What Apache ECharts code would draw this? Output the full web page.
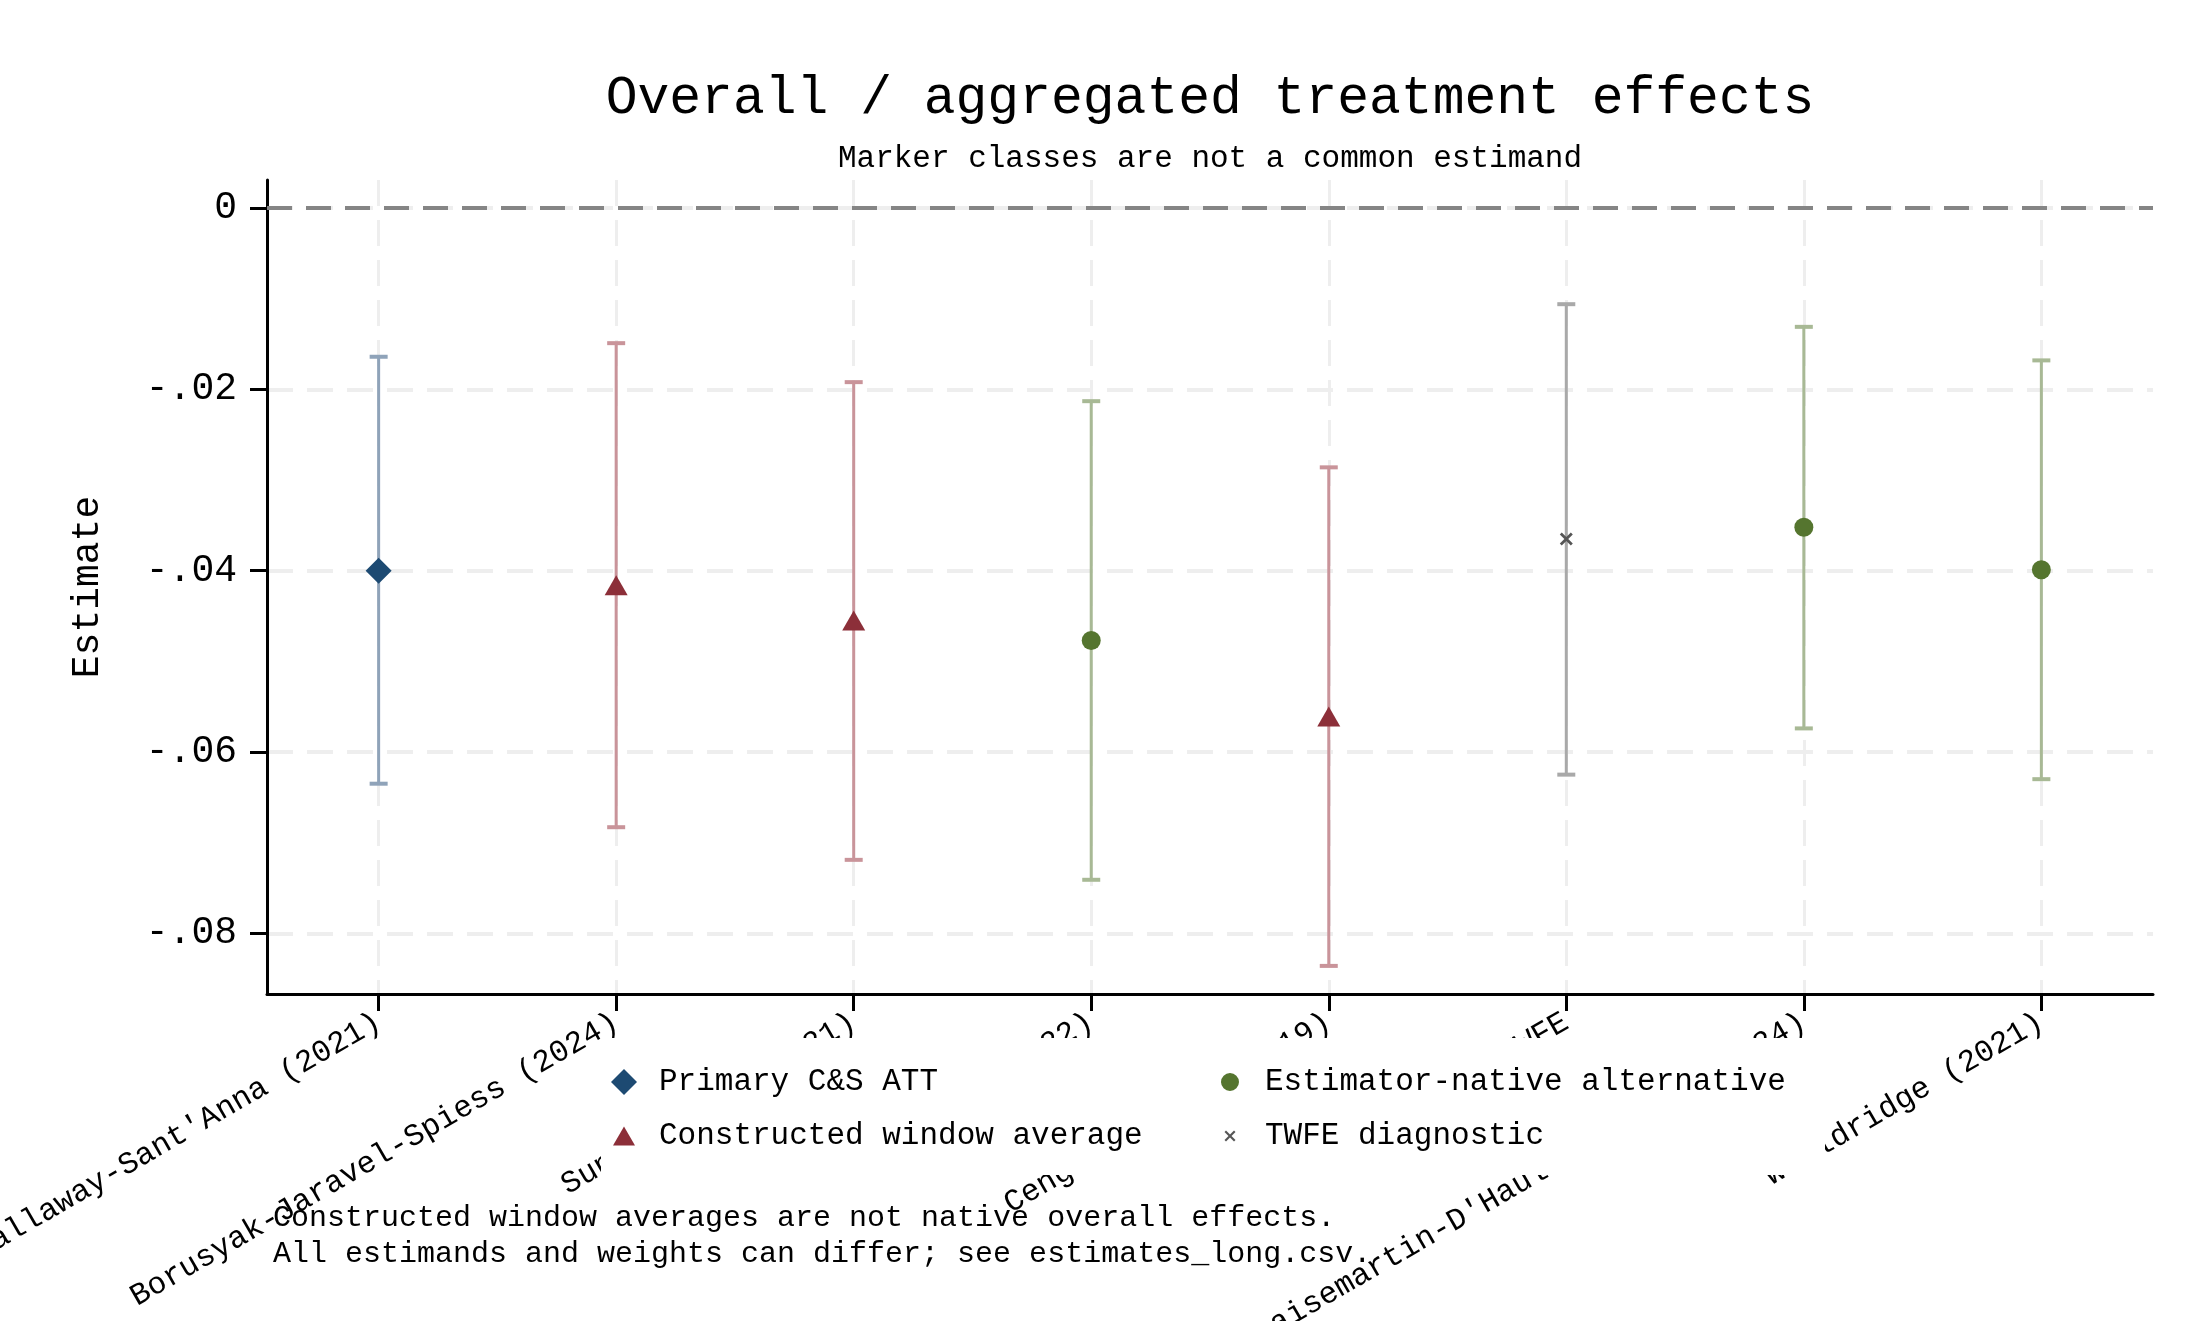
<!DOCTYPE html>
<html><head><meta charset="utf-8">
<script src="https://cdn.jsdelivr.net/npm/echarts@6/dist/echarts.min.js"></script>
<style>html,body{margin:0;padding:0;background:#fff}#c{width:2200px;height:1321px}</style>
</head><body><div id="c"></div>
<script>
// ---- data ----
const categories = ["Callaway-Sant'Anna (2021)", "Borusyak-Jaravel-Spiess (2024)", "Sun-Abraham (2021)", "Gardner (2022)", "Cengiz et al. (2019)", "TWFE", "de Chaisemartin-D'Haultfoeuille (2024)", "Wooldridge (2021)"];
const markerClass = ["Primary C&S ATT", "Constructed window average", "Constructed window average", "Estimator-native alternative", "Constructed window average", "TWFE diagnostic", "Estimator-native alternative", "Estimator-native alternative"];
const estimates = [-0.0400, -0.0416, -0.0455, -0.0477, -0.0561, -0.0365, -0.0352, -0.0399];
const ciLower = [-0.0635, -0.0683, -0.0719, -0.0741, -0.0836, -0.0625, -0.0574, -0.0630];
const ciUpper = [-0.0164, -0.0149, -0.0192, -0.0213, -0.0286, -0.0106, -0.0131, -0.0168];
const yTicks = [0, -0.02, -0.04, -0.06, -0.08];
const yTickLabels = ["0", "-.02", "-.04", "-.06", "-.08"];
const legendOrder = ["Primary C&S ATT", "Estimator-native alternative", "Constructed window average", "TWFE diagnostic"];
const referenceLine = 0;
const titleText = "Overall / aggregated treatment effects";
const subtitleText = "Marker classes are not a common estimand";
const noteLines = ["Constructed window averages are not native overall effects.", "All estimands and weights can differ; see estimates_long.csv."];

// ---- styles ----
const FONT = "Liberation Mono";
const xPath = 'path://M1.5,0 L5,3.5 L8.5,0 L10,1.5 L6.5,5 L10,8.5 L8.5,10 L5,6.5 L1.5,10 L0,8.5 L3.5,5 L0,1.5 Z';
const classStyle = {
  "Primary C&S ATT": {symbol: 'diamond', size: [26, 26], color: '#1d4a72', bar: '#8fa3b9',
    icon: 'path://M0,0 M26,26 M13,0 L26,13 L13,26 L0,13 Z'},
  "Constructed window average": {symbol: 'triangle', size: [23, 20], color: '#8c2f39', bar: '#c9949a',
    icon: 'path://M0,0 M26,26 M13,3.5 L24,22.5 L2,22.5 Z'},
  "Estimator-native alternative": {symbol: 'circle', size: 19, color: '#55752f', bar: '#a8b995',
    icon: 'path://M0,0 M26,26 M13,4 A9,9 0 1,1 12.99,4 Z'},
  "TWFE diagnostic": {symbol: xPath, size: 13, color: '#555555', bar: '#a9a9a9',
    icon: 'path://M0,0 M26,26 M9,7.5 L13,11.5 L17,7.5 L18.5,9 L14.5,13 L18.5,17 L17,18.5 L13,14.5 L9,18.5 L7.5,17 L11.5,13 L7.5,9 Z'}
};
const xPositions = categories.map((c, i) => i);

const series = [];
legendOrder.forEach((cls, k) => {
  const st = classStyle[cls];
  const idx = xPositions.filter(i => markerClass[i] === cls);
  series.push({
    name: 'ci-' + cls, type: 'custom', z: 2,
    data: idx.map(i => [i, ciLower[i], ciUpper[i]]),
    encode: {x: 0, y: [1, 2]},
    renderItem: function (params, api) {
      const x = api.value(0);
      const top = api.coord([x, api.value(2)]);
      const bot = api.coord([x, api.value(1)]);
      const hw = 9;
      const s = {stroke: st.bar, lineWidth: 3};
      return {type: 'group', children: [
        {type: 'line', shape: {x1: top[0], y1: top[1], x2: bot[0], y2: bot[1]}, style: s},
        {type: 'line', shape: {x1: top[0] - hw, y1: top[1], x2: top[0] + hw, y2: top[1]}, style: {stroke: st.bar, lineWidth: 4}},
        {type: 'line', shape: {x1: bot[0] - hw, y1: bot[1], x2: bot[0] + hw, y2: bot[1]}, style: {stroke: st.bar, lineWidth: 4}}
      ]};
    }
  });
  const sc = {
    name: cls, type: 'scatter', z: 3,
    symbol: st.symbol, symbolSize: st.size,
    itemStyle: {color: st.color, opacity: 1},
    data: idx.map(i => [i, estimates[i]])
  };
  if (k === 0) {
    sc.markLine = {
      silent: true, symbol: 'none', label: {show: false},
      lineStyle: {color: '#858585', width: 4, type: [25, 14]},
      data: [{yAxis: referenceLine}], z: 1
    };
  }
  series.push(sc);
});

const chart = echarts.init(document.getElementById('c'), null, {renderer: 'canvas'});
chart.setOption({
  backgroundColor: '#fff',
  animation: false,
  title: [
    {text: titleText, left: 1210, top: 72, textAlign: 'center', padding: 0,
      textStyle: {fontFamily: FONT, fontSize: 53, fontWeight: 'normal', color: '#000'}},
    {text: subtitleText, left: 1210, top: 143, textAlign: 'center', padding: 0,
      textStyle: {fontFamily: FONT, fontSize: 31, fontWeight: 'normal', color: '#000'}},
    {text: noteLines.join('\n'), left: 273, top: 1200, padding: 0, z: 8,
      textStyle: {fontFamily: FONT, fontSize: 30, lineHeight: 36, fontWeight: 'normal', color: '#000'}}
  ],
  legend: {
    data: legendOrder.map(n => ({name: n, icon: classStyle[n].icon})),
    left: 601, top: 1038, width: 1200,
    padding: [27, 22, 22, 10],
    backgroundColor: '#fff',
    itemWidth: 26, itemHeight: 26, itemGap: 20,
    selectedMode: false, z: 5,
    textStyle: {fontFamily: FONT, fontSize: 31, color: '#000', width: 538, lineHeight: 34, padding: [0, 0, 0, 17]}
  },
  grid: {left: 267, right: 47, top: 180, bottom: 327, containLabel: false, outerBoundsMode: 'none'},
  xAxis: {
    type: 'value', min: -0.47, max: 7.47,
    axisLine: {show: true, onZero: false, lineStyle: {color: '#000', width: 3}},
    axisTick: {show: true, customValues: xPositions, length: 17, lineStyle: {color: '#000', width: 3}},
    axisLabel: {customValues: xPositions, rotate: 30, margin: 26, fontFamily: FONT, fontSize: 31, color: '#000',
      formatter: v => categories[Math.round(v)]},
    splitLine: {show: true, lineStyle: {color: '#eeeeee', width: 3, type: [26, 14]}}
  },
  yAxis: {
    type: 'value', min: -0.0867, max: 0.0031,
    name: 'Estimate', nameLocation: 'middle', nameGap: 160,
    nameTextStyle: {fontFamily: FONT, fontSize: 38, color: '#000'},
    axisLine: {show: true, onZero: false, lineStyle: {color: '#000', width: 3}},
    axisTick: {show: true, customValues: yTicks, length: 17, lineStyle: {color: '#000', width: 3}},
    axisLabel: {customValues: yTicks, margin: 30, fontFamily: FONT, fontSize: 38, color: '#000',
      formatter: v => yTickLabels[yTicks.findIndex(t => Math.abs(t - v) < 1e-9)]},
    splitLine: {show: true, lineStyle: {color: '#eeeeee', width: 4, type: [26, 14]}}
  },
  series: series
});
</script></body></html>
